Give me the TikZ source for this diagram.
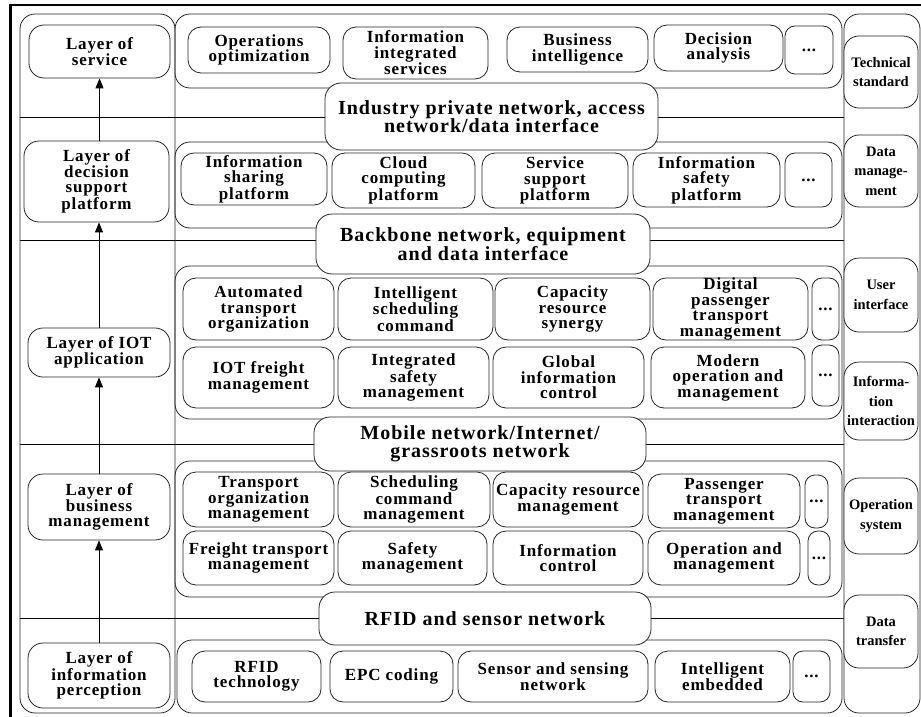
\documentclass[tikz,border=0pt]{standalone}
\usepackage{fontspec}
\setmainfont{Liberation Serif}
\newfontfamily\lsfont{Liberation Serif}[LetterSpace=5]
\usetikzlibrary{arrows.meta}
\newcommand\itemfnt{\lsfont\bfseries\fontsize{17}{15.5}\selectfont}
\newcommand\netfnt{\lsfont\bfseries\fontsize{20}{18.5}\selectfont}
\newcommand\sidefnt{\bfseries\fontsize{14.5}{19.5}\selectfont}
\begin{document}
\begin{tikzpicture}[x=1pt,y=-1pt,line width=0.8pt,
  bb/.style args={#1/#2/#3/#4}{minimum width={#3-#1},minimum height={#4-#2},at={({(#1+#3)/2},{(#2+#4)/2})}},
  box/.style={draw=black!85,fill=white,rounded corners=13pt,inner sep=0pt,align=center},
  itm/.style={box,font=\itemfnt},
  dts/.style={box,rounded corners=10pt,font=\itemfnt},
  grp/.style={draw=black!85,rounded corners=15pt,inner sep=0pt},
  net/.style={box,rounded corners=16pt,font=\netfnt},
  lay/.style={box,rounded corners=15pt,font=\itemfnt},
  side/.style={box,rounded corners=15pt,font=\sidefnt},
  up/.style={-{Triangle[length=10pt,width=8pt]},line width=0.9pt}]
\useasboundingbox (0,0) rectangle (921,717);
% frame
\coordinate (fa) at (10.5,717);
\coordinate (fb) at (10.5,5);
\coordinate (fc) at (921,5);
\draw[line width=2.6pt] (fa) -- (fb) -- (fc);
% horizontal layer lines
\foreach \yy [count=\i] in {117,240,444,618}{
  \coordinate (h\i l) at (20,\yy);
  \coordinate (h\i r) at (844,\yy);
  \draw (h\i l) -- (h\i r);
}
% columns
\node[grp,bb=20/14/175/713] (lc) {};
\node[grp,bb=844/14/920/713] (rc) {};
% groups
\node[grp,bb=175/14/842/88] (g1) {};
\node[grp,bb=175/142/842/228] (g2) {};
\node[grp,bb=175/266/842/419] (g3) {};
\node[grp,bb=175/461/842/597] (g4) {};
\node[grp,bb=177/640/842/713] (g5) {};
% group 1 items
\node[itm,bb=188/27/330/73] (a1) {Operations\\optimization};
\node[itm,bb=343/27/488/79] (a2) {Information\\integrated\\services};
\node[itm,bb=507/27/648/72] (a3) {Business\\intelligence};
\node[itm,bb=654/25/783/71] (a4) {Decision\\analysis};
\node[dts,bb=785/26/833/74] (a5) {...};
% group 2 items
\node[itm,bb=181/153/327/205] (b1) {Information\\sharing\\platform};
\node[itm,bb=332/153/475/208] (b2) {Cloud\\computing\\platform};
\node[itm,bb=482/153/628/208] (b3) {Service\\support\\platform};
\node[itm,bb=633/153/780/207] (b4) {Information\\safety\\platform};
\node[dts,bb=785/153/832/207] (b5) {...};
% group 3 items
\node[itm,bb=183/278/334/340] (c1) {Automated\\transport\\organization};
\node[itm,bb=338/278/493/340] (c2) {Intelligent\\scheduling\\command};
\node[itm,bb=495/278/650/340] (c3) {Capacity\\resource\\synergy};
\node[itm,bb=653/278/808/340] (c4) {Digital\\passenger\\transport\\management};
\node[dts,bb=812/278/839/340] (c5) {...};
\node[itm,bb=183/347/334/408] (d1) {IOT freight\\management};
\node[itm,bb=338/347/489/408] (d2) {Integrated\\safety\\management};
\node[itm,bb=493/347/644/408] (d3) {Global\\information\\control};
\node[itm,bb=651/347/805/408] (d4) {Modern\\operation and\\management};
\node[dts,bb=812/345/839/406] (d5) {...};
% group 4 items
\node[itm,bb=183/472/334/527] (e1) {Transport\\organization\\management};
\node[itm,bb=338/472/490/527] (e2) {Scheduling\\command\\management};
\node[itm,bb=493/472/643/527] (e3) {Capacity resource\\management};
\node[itm,bb=648/474/800/528] (e4) {Passenger\\transport\\management};
\node[dts,bb=805/475/828/528] (e5) {...};
\node[itm,bb=183/531/334/585] (f1) {Freight transport\\management};
\node[itm,bb=338/531/487/585] (f2) {Safety\\management};
\node[itm,bb=493/531/643/585] (f3) {Information\\control};
\node[itm,bb=648/531/800/585] (f4) {Operation and\\management};
\node[dts,bb=808/531/830/585] (f5) {...};
% group 5 items
\node[itm,bb=192/651/321/702] (k1) {RFID\\technology};
\node[itm,bb=330/651/453/702] (k2) {EPC coding};
\node[itm,bb=458/651/648/702] (k3) {Sensor and sensing\\network};
\node[itm,bb=655/651/790/702] (k4) {Intelligent\\embedded};
\node[dts,bb=793/651/830/702] (k5) {...};
% networks
\node[net,bb=325/83/658/150] (n1) {Industry private network, access\\network/data interface};
\node[net,bb=316/214/650/274] (n2) {Backbone network, equipment\\and data interface};
\node[net,bb=314/417/646/471] (n3) {Mobile network/Internet/\\grassroots network};
\node[net,bb=319/592/651/645] (n4) {RFID and sensor network};
% left layers
\node[lay,bb=29/25/170/78] (l1) {Layer of\\service};
\node[lay,bb=24/141/169/222] (l2) {Layer of\\decision\\support\\platform};
\node[lay,bb=28/328/170/377] (l3) {Layer of IOT\\application};
\node[lay,bb=28/474/170/540] (l4) {Layer of\\business\\management};
\node[lay,bb=28/643/170/708] (l5) {Layer of\\information\\perception};
% right column
\node[side,bb=844/36/918/108] (r1) {Technical\\standard};
\node[side,bb=844/135/918/207] (r2) {Data\\manage-\\ment};
\node[side,bb=844/258/918/332] (r3) {User\\interface};
\node[side,bb=844/362/918/440] (r4) {Informa-\\tion\\interaction};
\node[side,bb=844/478/918/554] (r5) {Operation\\system};
\node[side,bb=844/595/918/668] (r6) {Data\\transfer};
% arrows
\draw[up] (l5.north) -- (l4.south);
\draw[up] (l4.north) -- (l3.south);
\draw[up] (l3.north) -- (l3.north |- l2.south);
\draw[up] (l2.north -| l1.south) -- (l1.south);
\end{tikzpicture}
\end{document}
